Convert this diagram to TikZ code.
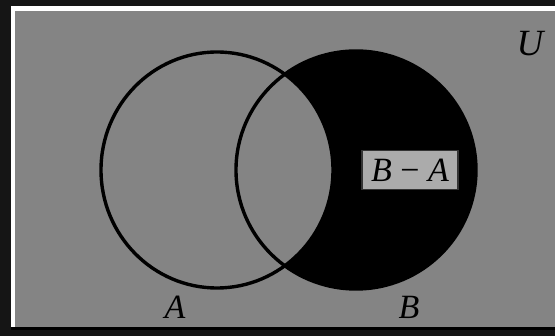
\documentclass[tikz,border=0pt]{standalone}
\usepackage{fontspec}
\setmainfont{Liberation Serif}
\usepackage{tikz}

\definecolor{outerdark}{HTML}{151515}
\definecolor{panelgray}{HTML}{848484}
\definecolor{boxgray}{HTML}{ABABAB}

\begin{document}
\begin{tikzpicture}[
  x=1pt, y=-1pt,
  setline/.style={line width=3.4pt, black},
  setlabel/.style={font=\fontsize{34}{36}\selectfont\itshape, inner sep=0pt},
  diffbox/.style={draw=black!80, line width=1.3pt, fill=boxgray, minimum width=96pt, minimum height=39pt, inner sep=0pt, font=\fontsize{34}{36}\selectfont}
]
\useasboundingbox (0,0) rectangle (555,336);
\fill[outerdark] (0,0) rectangle (555,336);
\fill[white] (11,6) rectangle (555,330);
\fill[panelgray] (15,11) rectangle (555,327);
\draw[black, line width=3pt] (11,328.5) -- (555,328.5);

\coordinate (cA) at (217,170);
\coordinate (cB) at (356,170);

% shaded region B - A
\fill[black] (cB) ellipse [x radius=120, y radius=119];
\begin{scope}
  \clip (cB) ellipse [x radius=120, y radius=119];
  \fill[panelgray] (cA) ellipse [x radius=116, y radius=118];
\end{scope}
\draw[setline] (cA) ellipse [x radius=116, y radius=118];
\draw[setline] (cB) ellipse [x radius=120, y radius=119];

\node[diffbox] (diff) at (410,170) {\textit{B} − \textit{A}};
\node[setlabel, font=\fontsize{37}{38}\selectfont\itshape] (univ) at (530,44) {U};
\node[setlabel] (labA) at (175,307) {A};
\node[setlabel] (labB) at (409,307) {B};
\end{tikzpicture}
\end{document}
